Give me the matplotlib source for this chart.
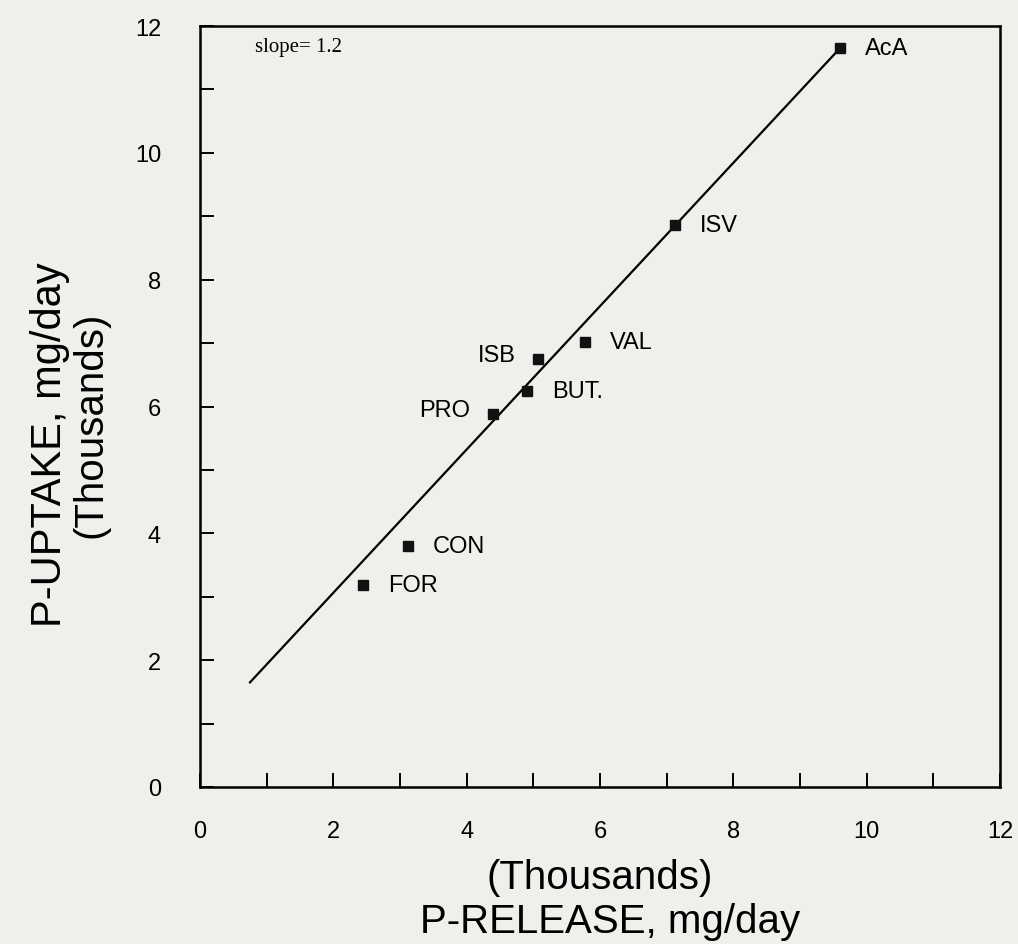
import matplotlib
matplotlib.use("Agg")
import matplotlib.pyplot as plt
from matplotlib.ticker import MultipleLocator

# Data (thousands of mg/day)
labels = ["AcA", "ISV", "VAL", "ISB", "BUT.", "PRO", "CON", "FOR"]
p_release = [9.60, 7.12, 5.78, 5.07, 4.90, 4.39, 3.12, 2.44]
p_uptake = [11.65, 8.86, 7.02, 6.75, 6.24, 5.88, 3.80, 3.19]
label_side = ["right", "right", "right", "left", "right", "left", "right", "right"]

fit_x = [0.75, 9.60]
fit_y = [1.65, 11.65]

bg = "#eef0ec"
plt.rcParams['font.family'] = ['Liberation Sans', 'DejaVu Sans']

W, H = 1018, 945
fig = plt.figure(figsize=(W/100, H/100), dpi=100, facecolor=bg)
ax = fig.add_axes([200/W, 1-788/H, 800/W, 761/H])
ax.set_facecolor(bg)

ax.plot(fit_x, fit_y, color="black", lw=1.6)
ax.plot(p_release, p_uptake, linestyle="none", marker="s", ms=7, color="#111111")

for lab, x, y, side in zip(labels, p_release, p_uptake, label_side):
    if side == "right":
        ax.annotate(lab, (x, y), xytext=(18, 0), textcoords="offset points",
                    ha="left", va="center", fontsize=17)
    else:
        ax.annotate(lab, (x, y), xytext=(-16, 3), textcoords="offset points",
                    ha="right", va="center", fontsize=17)

ax.text(0.83, 11.67, "slope= 1.2", fontsize=15, family="Liberation Serif",
        ha="left", va="center")

ax.set_xlim(0, 12)
ax.set_ylim(0, 12)
ax.xaxis.set_major_locator(MultipleLocator(2))
ax.xaxis.set_minor_locator(MultipleLocator(1))
ax.yaxis.set_major_locator(MultipleLocator(2))
ax.yaxis.set_minor_locator(MultipleLocator(1))
ax.tick_params(which="both", direction="in", length=10, width=1.4, labelsize=17)
ax.tick_params(axis="x", which="major", pad=24)
ax.tick_params(axis="y", which="major", pad=28)
for s in ax.spines.values():
    s.set_linewidth(1.8)

fig.text(600/W, 1-878/H, "(Thousands)", fontsize=29, ha="center", va="center")
fig.text(610/W, 1-922/H, "P-RELEASE, mg/day", fontsize=29, ha="center", va="center")
fig.text(50/W, 1-445/H, "P-UPTAKE, mg/day", fontsize=30, ha="center", va="center", rotation=90)
fig.text(90/W, 1-425/H, "(Thousands)", fontsize=29, ha="center", va="center", rotation=90)

fig.savefig("out.png", dpi=100, facecolor=bg)
